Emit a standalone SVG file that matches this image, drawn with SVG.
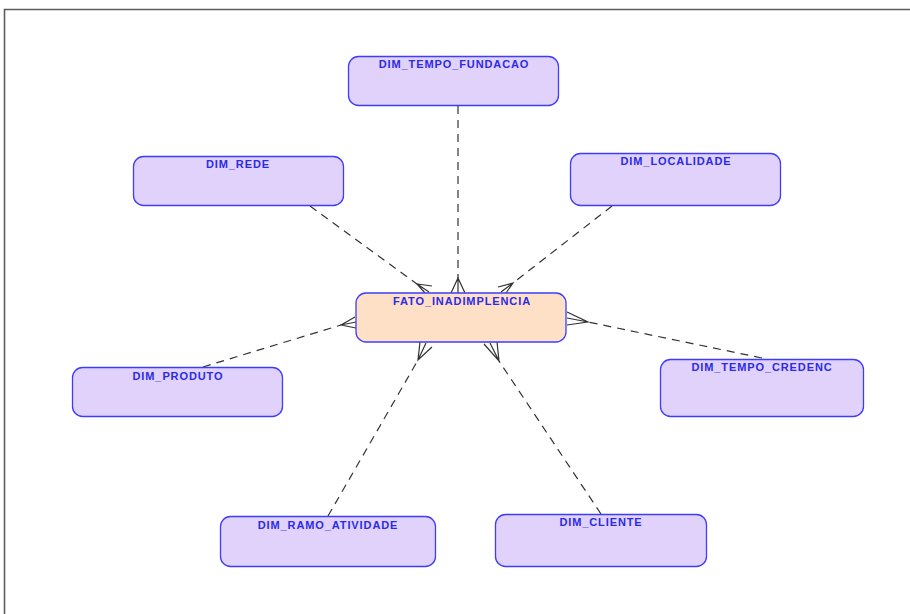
<svg xmlns="http://www.w3.org/2000/svg" width="910" height="614" viewBox="0 0 910 614">
<style>
.dim rect{fill:#e1d2fc;stroke:#3d3dfa;stroke-width:1.3}
.fact rect{fill:#fee0c6;stroke:#3d3dfa;stroke-width:1.3}
text{font-family:"Liberation Sans",Arial,sans-serif;font-size:11px;font-weight:bold;fill:#2a2ae8;text-anchor:middle;letter-spacing:0.9px}
.rel{stroke:#333;stroke-width:1.2;fill:none;stroke-dasharray:8 6}
.cf{stroke:#333;stroke-width:1.2;fill:none}
</style>
<rect x="0" y="0" width="910" height="614" fill="#fff"/>
<path d="M4.5 614 V9.5 H910" fill="none" stroke="#5c5c5c" stroke-width="1.6"/>
<g id="connectors">
<line class="rel" x1="458" y1="106" x2="458" y2="278"/>
<path class="cf" d="M451 293 L458 278 L465 293 M458 278 V293"/>
<line class="rel" x1="310" y1="206" x2="417" y2="284"/>
<path class="cf" d="M432 286 L417 284 L425 293 M417 284 L429 292"/>
<line class="rel" x1="612" y1="206" x2="513" y2="283"/>
<path class="cf" d="M498 287 L513 283 L506 293 M513 283 L501 292"/>
<line class="rel" x1="203" y1="367" x2="341" y2="325"/>
<path class="cf" d="M355 317 L341 325 L356 328 M341 325 L356 322"/>
<line class="rel" x1="762" y1="358" x2="588" y2="322"/>
<path class="cf" d="M567 312 L588 322 L567 325 M588 322 L567 318"/>
<line class="rel" x1="328" y1="516" x2="418" y2="360"/>
<path class="cf" d="M420 342 L418 360 L432 347 M418 360 L426 343"/>
<line class="rel" x1="601" y1="514" x2="499" y2="361"/>
<path class="cf" d="M484 344 L499 361 L497 342 M499 361 L490 343"/>
</g>
<g id="FATO_INADIMPLENCIA" class="fact"><rect x="356" y="293" width="210" height="49" rx="10"/><text x="462" y="305">FATO_INADIMPLENCIA</text></g>
<g id="DIM_TEMPO_FUNDACAO" class="dim"><rect x="348.5" y="56.5" width="210" height="49" rx="10"/><text x="454" y="68">DIM_TEMPO_FUNDACAO</text></g>
<g id="DIM_REDE" class="dim"><rect x="133.5" y="156.5" width="210" height="49" rx="10"/><text x="238" y="168">DIM_REDE</text></g>
<g id="DIM_LOCALIDADE" class="dim"><rect x="570.5" y="153.5" width="210" height="52" rx="10"/><text x="676" y="165">DIM_LOCALIDADE</text></g>
<g id="DIM_PRODUTO" class="dim"><rect x="72.5" y="367.5" width="210" height="49" rx="10"/><text x="178" y="380">DIM_PRODUTO</text></g>
<g id="DIM_TEMPO_CREDENC" class="dim"><rect x="660.5" y="359.5" width="203" height="57" rx="10"/><text x="762" y="371">DIM_TEMPO_CREDENC</text></g>
<g id="DIM_RAMO_ATIVIDADE" class="dim"><rect x="220.5" y="516.5" width="215" height="50" rx="10"/><text x="328" y="529">DIM_RAMO_ATIVIDADE</text></g>
<g id="DIM_CLIENTE" class="dim"><rect x="495.5" y="514.5" width="211" height="52" rx="10"/><text x="601" y="526">DIM_CLIENTE</text></g>
</svg>
